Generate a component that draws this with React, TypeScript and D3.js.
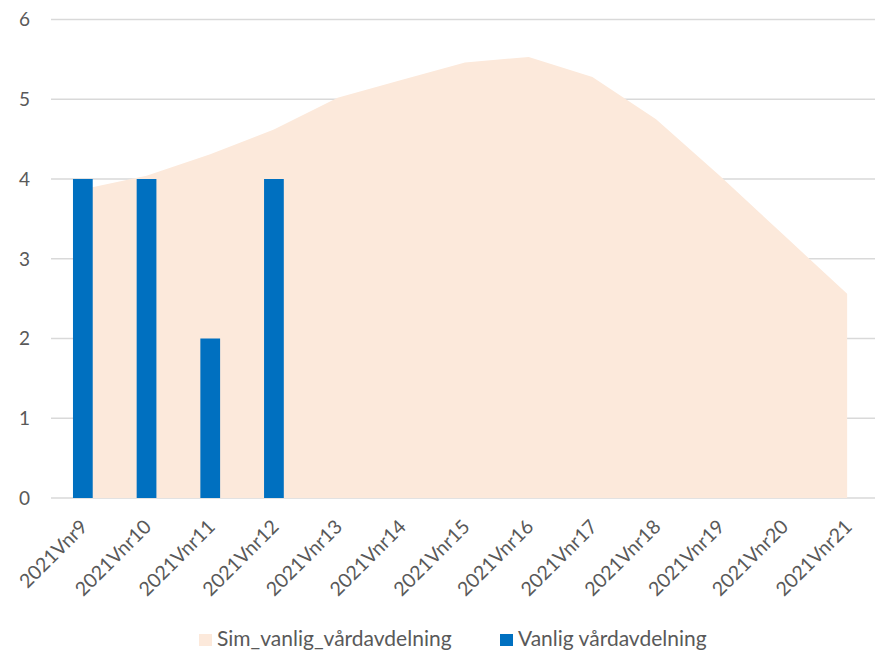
import React, { useEffect, useRef } from "react";
import * as d3 from "d3";

const categories = [
  "2021Vnr9", "2021Vnr10", "2021Vnr11", "2021Vnr12", "2021Vnr13", "2021Vnr14", "2021Vnr15",
  "2021Vnr16", "2021Vnr17", "2021Vnr18", "2021Vnr19", "2021Vnr20", "2021Vnr21",
];
const simValues = [3.87, 4.04, 4.31, 4.62, 5.02, 5.24, 5.46, 5.53, 5.28, 4.75, 4.04, 3.3, 2.56];
const actualValues: (number | null)[] = [4, 4, 2, 4, null, null, null, null, null, null, null, null, null];
const yTicks = [0, 1, 2, 3, 4, 5, 6];
const seriesNames = ["Sim_vanlig_vårdavdelning", "Vanlig vårdavdelning"];

const width = 875;
const height = 652;
const plot = { left: 51, right: 879, top: 19.5, bottom: 498 };
const font = "Lato, 'Open Sans', sans-serif";
const textColor = "#595959";
const areaColor = "#FCE9DB";
const barColor = "#0070C0";

export default function App() {
  const ref = useRef<SVGSVGElement>(null);

  useEffect(() => {
    const svg = d3.select(ref.current);
    svg.selectAll("*").remove();

    const x = d3.scaleBand().domain(categories).range([plot.left, plot.right]);
    const y = d3.scaleLinear().domain([0, 6]).range([plot.bottom, plot.top]);
    const cx = (c: string) => (x(c) as number) + x.bandwidth() / 2;

    // gridlines
    svg.append("g")
      .selectAll("line")
      .data(yTicks)
      .join("line")
      .attr("x1", plot.left)
      .attr("x2", width)
      .attr("y1", d => y(d))
      .attr("y2", d => y(d))
      .attr("stroke", "#D9D9D9")
      .attr("stroke-width", 1.3);

    // simulated area
    const area = d3.area<number>()
      .x((d, i) => cx(categories[i]))
      .y0(y(0))
      .y1(d => y(d));
    svg.append("path")
      .datum(simValues)
      .attr("fill", areaColor)
      .attr("d", area);

    // bars
    const barW = x.bandwidth() * 0.31;
    svg.append("g")
      .selectAll("rect")
      .data(actualValues.map((v, i) => ({ c: categories[i], v })).filter(d => d.v !== null))
      .join("rect")
      .attr("x", d => cx(d.c) - barW / 2)
      .attr("width", barW)
      .attr("y", d => y(d.v as number))
      .attr("height", d => y(0) - y(d.v as number))
      .attr("fill", barColor);

    // y labels
    svg.append("g")
      .selectAll("text")
      .data(yTicks)
      .join("text")
      .attr("x", 30)
      .attr("y", d => y(d))
      .attr("dy", "0.36em")
      .attr("text-anchor", "end")
      .attr("fill", textColor)
      .style("font", `19px ${font}`)
      .text(d => d);

    // x labels
    svg.append("g")
      .selectAll("text")
      .data(categories)
      .join("text")
      .attr("transform", d => `translate(${cx(d) + 6},${plot.bottom + 30}) rotate(-45)`)
      .attr("text-anchor", "end")
      .attr("fill", textColor)
      .style("font", `19.5px ${font}`)
      .text(d => d);

    // legend
    const legend = [
      { name: seriesNames[0], color: areaColor, x: 199 },
      { name: seriesNames[1], color: barColor, x: 500 },
    ];
    const lg = svg.append("g").selectAll("g").data(legend).join("g");
    lg.append("rect")
      .attr("x", d => d.x)
      .attr("y", 634)
      .attr("width", 13)
      .attr("height", 12)
      .attr("fill", d => d.color);
    lg.append("text")
      .attr("x", d => d.x + 18)
      .attr("y", 646)
      .attr("fill", textColor)
      .style("font", `21px ${font}`)
      .text(d => d.name);
  }, []);

  return (
    <svg
      ref={ref}
      width={width}
      height={height}
      style={{ position: "absolute", left: 0, top: 0, background: "#fff" }}
    />
  );
}
